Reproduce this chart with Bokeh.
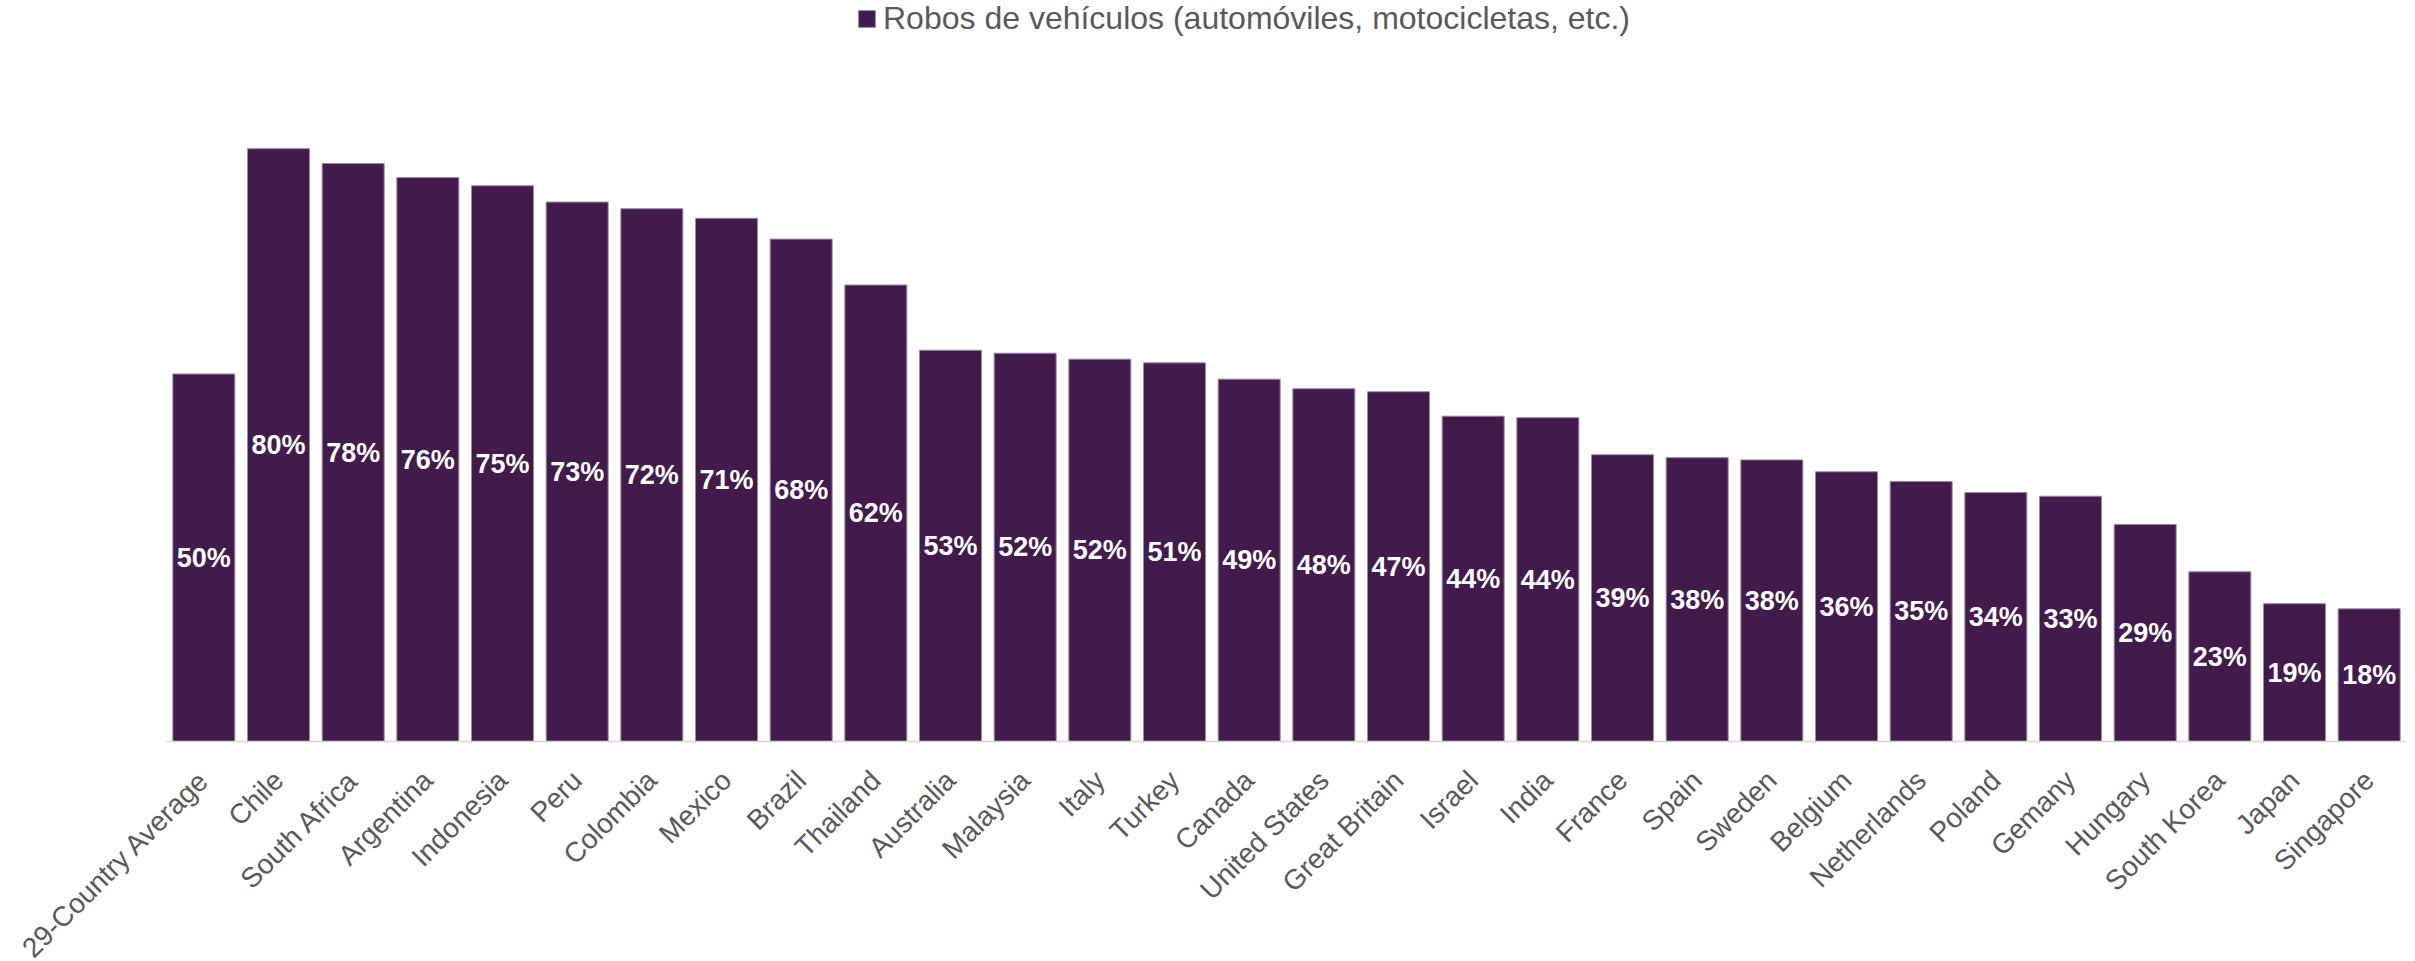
import math
from bokeh.plotting import figure
from bokeh.models import ColumnDataSource, Range1d, Legend, LegendItem
from bokeh.core.properties import value
from bokeh.embed import file_html
from bokeh.resources import INLINE

categories = ["29-Country Average", "Chile", "South Africa", "Argentina", "Indonesia",
              "Peru", "Colombia", "Mexico", "Brazil", "Thailand", "Australia",
              "Malaysia", "Italy", "Turkey", "Canada", "United States", "Great Britain",
              "Israel", "India", "France", "Spain", "Sweden", "Belgium", "Netherlands",
              "Poland", "Gemany", "Hungary", "South Korea", "Japan", "Singapore"]
values = [49.6, 80.0, 78.0, 76.1, 75.0, 72.8, 71.9, 70.6, 67.8, 61.6, 52.8,
          52.4, 51.6, 51.1, 48.9, 47.6, 47.2, 43.9, 43.7, 38.7, 38.3, 38.0,
          36.4, 35.1, 33.6, 33.1, 29.3, 22.9, 18.6, 17.9]
series_name = "Robos de vehículos (automóviles, motocicletas, etc.)"

n = len(categories)
positions = [i + 0.5 for i in range(n)]
labels = ["%d%%" % int(round(v)) for v in values]
src = ColumnDataSource(dict(x=positions, cat=categories, val=values,
                            mid=[v / 2 for v in values], lab=labels))

# frame covers the whole canvas; left area holds the rotated first label
px_per_cat = 2240 / n
x_start = -166 / px_per_cat
x_end = n + 1 / px_per_cat
px_per_pct = 7.41
y_start = -220 / px_per_pct

p = figure(x_range=Range1d(x_start, x_end), y_range=Range1d(y_start, 741 / px_per_pct),
           width=2407, height=961, output_backend="svg", toolbar_location=None,
           min_border=0)
p.outline_line_color = None
p.grid.visible = False
p.axis.visible = False
p.background_fill_color = "white"
p.border_fill_color = "white"

bars = p.vbar(x="x", top="val", width=0.83, source=src,
              fill_color="#421a4b", line_color="#9a87a0", line_width=1)

# category axis line
p.segment(x0=[0], x1=[n], y0=[0], y1=[0], line_color="#d9d9d9", line_width=1.5)

# value labels
p.text(x="x", y="mid", text="lab", source=src, text_align="center",
       text_baseline="middle", text_color="white", text_font=value("Liberation Sans"),
       text_font_style="bold", text_font_size="27px")

# rotated category labels
p.text(x="x", y=-4.6, text="cat", source=src, angle=math.pi / 4, x_offset=0,
       text_align="right", text_baseline="middle", text_color="#595959",
       text_font=value("Liberation Sans"), text_font_size="28px")

legend = Legend(items=[LegendItem(label=series_name, renderers=[bars])],
                location=(856, 924), orientation="horizontal",
                glyph_width=21, glyph_height=21, label_standoff=6,
                label_text_font="Liberation Sans", label_text_font_size="32px",
                label_text_color="#595959", label_height=32, padding=0, margin=0,
                border_line_color=None, background_fill_alpha=0)
p.add_layout(legend)

open("out.html", "w").write(file_html(p, INLINE))
